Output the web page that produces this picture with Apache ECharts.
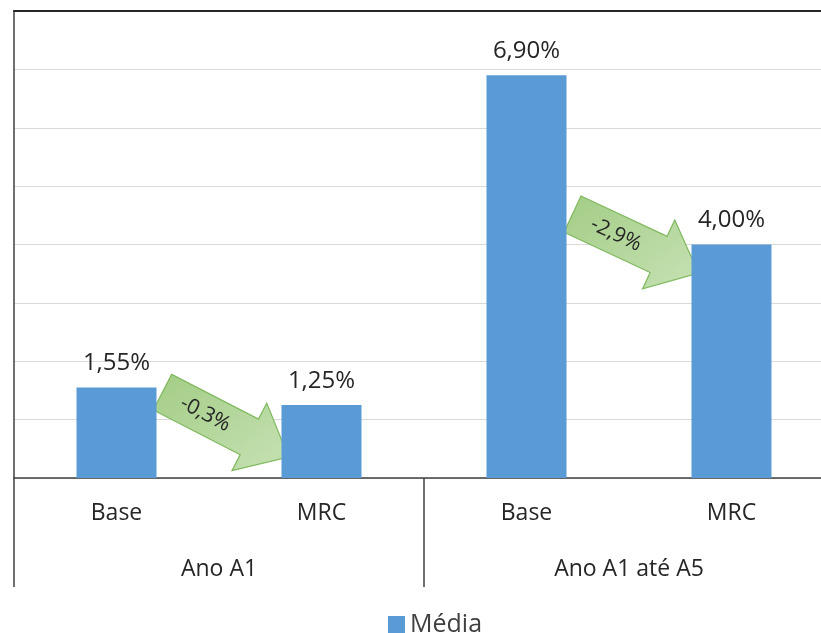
<!DOCTYPE html>
<html>
<head>
<meta charset="utf-8">
<script src="https://cdn.jsdelivr.net/npm/echarts@6/dist/echarts.min.js"></script>
<style>
	html, body { margin: 0; padding: 0; background: #fff; }
	#chart { width: 821px; height: 633px; }
</style>
</head>
<body>
<div id="chart"></div>
<script>
	// dados
	var categorias = ['Base', 'MRC', 'Base', 'MRC'];
	var grupos = ['Ano A1', 'Ano A1 até A5'];
	var media = [1.55, 1.25, 6.90, 4.00];
	var setasTexto = ['-0,3%', '-2,9%'];
	var setasDe = [[0, 1.47], [2, 4.52]];
	var setasPara = [[1, 0.36], [3, 3.51]];

	var fonte = 'Open Sans';
	var Chart = echarts.init(document.getElementById('chart'));

	var option = {
		backgroundColor: '#fff',
		animation: false,
		grid: {
			left: 14,
			right: -13,
			top: 11,
			bottom: 155,
			outerBoundsMode: 'none',
			containLabel: false
		},
		legend: {
			left: 383,
			top: 607,
			icon: 'rect',
			itemWidth: 17,
			itemHeight: 17,
			itemGap: 5,
			textStyle: {
				fontFamily: fonte,
				fontSize: 25,
				color: '#404040'
			},
			data: ['Média']
		},
		xAxis: [{
			type: 'category',
			data: categorias,
			position: 'bottom',
			axisLine: { lineStyle: { color: '#404040', width: 1.5 } },
			axisTick: { show: false },
			axisLabel: {
				margin: 24,
				fontFamily: fonte,
				fontSize: 23,
				color: '#262626'
			}
		}, {
			type: 'category',
			data: grupos,
			position: 'bottom',
			axisLine: { show: false },
			axisTick: {
				show: true,
				length: 109,
				lineStyle: { color: '#404040', width: 1.5 }
			},
			axisLabel: {
				margin: 80,
				fontFamily: fonte,
				fontSize: 23,
				color: '#262626'
			}
		}, {
			type: 'category',
			data: categorias,
			position: 'top',
			axisLine: { lineStyle: { color: '#262626', width: 2 } },
			axisTick: { show: false },
			axisLabel: { show: false }
		}],
		yAxis: {
			type: 'value',
			min: 0,
			max: 8,
			interval: 1,
			axisLine: { show: true, lineStyle: { color: '#404040', width: 1.5 } },
			axisTick: { show: false },
			axisLabel: { show: false },
			splitLine: { lineStyle: { color: '#d9d9d9', width: 1 } }
		},
		series: [{
			name: 'Média',
			type: 'bar',
			xAxisIndex: 0,
			barWidth: 80,
			data: media,
			itemStyle: { color: '#5b9bd5' },
			label: {
				show: true,
				position: 'top',
				distance: 12,
				fontFamily: fonte,
				fontSize: 24,
				color: '#262626',
				formatter: function(p) {
					return p.value.toFixed(2).replace('.', ',') + '%';
				}
			}
		}]
	};
	Chart.setOption(option);

	/*setas verdes*/
	function setas() {
		var els = [];
		for(var i = 0; i < setasTexto.length; i++) {
			var p0 = Chart.convertToPixel({ xAxisIndex: 0, yAxisIndex: 0 }, setasDe[i]);
			var p1 = Chart.convertToPixel({ xAxisIndex: 0, yAxisIndex: 0 }, setasPara[i]);
			p0[0] += 46;
			p1[0] -= 33;
			var dx = p1[0] - p0[0],
				dy = p1[1] - p0[1];
			var L = Math.sqrt(dx * dx + dy * dy);
			var ang = Math.atan2(dy, dx);
			var hw = 20, hh = 38, hl = 44;
			els.push({
				type: 'group',
				x: p0[0],
				y: p0[1],
				rotation: -ang,
				z: 100,
				children: [{
					type: 'polygon',
					shape: {
						points: [[0, -hw], [L - hl, -hw], [L - hl, -hh], [L, 0], [L - hl, hh], [L - hl, hw], [0, hw]]
					},
					style: {
						fill: new echarts.graphic.LinearGradient(0, 0, 1, 1, [
							{ offset: 0, color: '#a3cd86' },
							{ offset: 1, color: '#c8e2b6' }
						]),
						stroke: '#7fb95e',
						lineWidth: 1.2
					}
				}, {
					type: 'text',
					style: {
						text: setasTexto[i],
						x: 48,
						y: 0,
						textAlign: 'center',
						textVerticalAlign: 'middle',
						fontFamily: fonte,
						fontSize: 21,
						fill: '#262626'
					}
				}]
			});
		}
		Chart.setOption({ graphic: els });
	}
	setas();
</script>
</body>
</html>
